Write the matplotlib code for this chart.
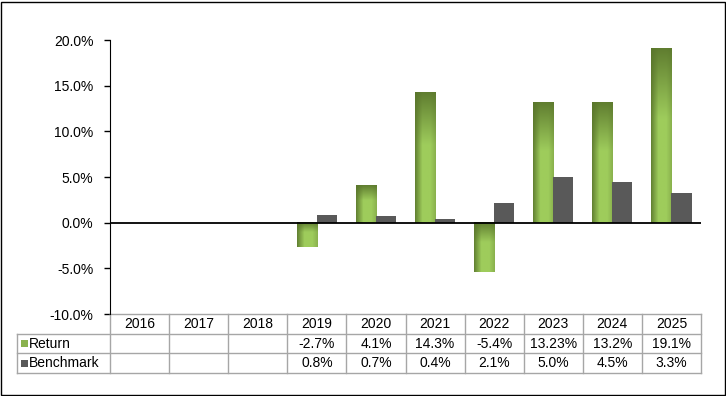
import numpy as np
import matplotlib
matplotlib.use("Agg")
import matplotlib.pyplot as plt
from matplotlib.patches import Rectangle
from matplotlib.lines import Line2D
import matplotlib.transforms as mtransforms

plt.rcParams['font.family'] = ['Liberation Sans', 'DejaVu Sans']

# data
years = ['2016', '2017', '2018', '2019', '2020', '2021', '2022', '2023', '2024', '2025']
ret = [None, None, None, -2.7, 4.1, 14.3, -5.4, 13.23, 13.2, 19.1]
ret_labels = ['', '', '', '-2.7%', '4.1%', '14.3%', '-5.4%', '13.23%', '13.2%', '19.1%']
bench = [None, None, None, 0.8, 0.7, 0.4, 2.1, 5.0, 4.5, 3.3]
bench_labels = ['', '', '', '0.8%', '0.7%', '0.4%', '2.1%', '5.0%', '4.5%', '3.3%']
series_names = ['Return', 'Benchmark']

W, H = 726, 396
fig = plt.figure(figsize=(W / 100, H / 100), dpi=100)
ax = fig.add_axes([110 / W, 82 / H, 591 / W, 274 / H])

light = np.array([0.62, 0.80, 0.36])
dark = np.array([0.35, 0.46, 0.17])
gray = '#595959'
bw = 0.34


def green_img(rows=80, cols=24):
    t = np.linspace(0, 1, cols)
    hd = np.interp(t, [0, 0.35, 0.75, 1.0], [0.85, 0.0, 0.0, 0.3])
    v = np.linspace(0, 1, rows)
    vd = np.interp(v, [0, 0.4, 1.0], [0.9, 0.0, 0.0])
    d = 1 - (1 - vd[:, None]) * (1 - hd[None, :])
    return light[None, None, :] * (1 - d[..., None]) + dark[None, None, :] * d[..., None]


for i, (r, b) in enumerate(zip(ret, bench)):
    c = i + 0.5
    if r is not None:
        top, bot = max(r, 0), min(r, 0)
        ax.imshow(green_img(), extent=[c - bw, c, bot, top], aspect='auto',
                  interpolation='bilinear', zorder=2)
    if b is not None:
        ax.bar(c, b, width=bw, align='edge', color=gray, zorder=2)

ax.set_xlim(0, 10)
ax.set_ylim(-10, 20)
ax.set_yticks(np.arange(-10, 21, 5))
ax.set_yticklabels([f'{v:.1f}%' for v in np.arange(-10, 21, 5)], fontsize=10)
ax.tick_params(axis='y', length=4, width=1, direction='out', pad=8)
ax.set_xticks([])
for s in ['top', 'right', 'bottom']:
    ax.spines[s].set_visible(False)
ax.spines['left'].set_color('black')
ax.axhline(0, color='black', lw=1.3, zorder=3)

# data table
tr = ax.get_xaxis_transform()
row_h = 19.7 / 274
lc = '#a6a6a6'
x_left = (17 - 110) / 59.1
for k in range(4):
    y = -k * row_h
    x0 = 0 if k == 0 else x_left
    ax.add_line(Line2D([x0, 10], [y, y], transform=tr, color=lc, lw=1, clip_on=False))
for j in range(11):
    ax.add_line(Line2D([j, j], [0, -3 * row_h], transform=tr, color=lc, lw=1, clip_on=False))
ax.add_line(Line2D([x_left, x_left], [-row_h, -3 * row_h], transform=tr, color=lc, lw=1, clip_on=False))

for j, yr in enumerate(years):
    ax.text(j + 0.5, -0.5 * row_h, yr, transform=tr, ha='center', va='center', fontsize=10)
    ax.text(j + 0.5, -1.5 * row_h, ret_labels[j], transform=tr, ha='center', va='center', fontsize=10)
    ax.text(j + 0.5, -2.5 * row_h, bench_labels[j], transform=tr, ha='center', va='center', fontsize=10)

key_colors = ['#8ab24e', gray]
for k, (name, kc) in enumerate(zip(series_names, key_colors)):
    yc = -(1.5 + k) * row_h
    kx = x_left + 4 / 59.1
    ax.add_patch(Rectangle((kx, yc - 3.5 / 274), 7 / 59.1, 7 / 274, transform=tr,
                           facecolor=kc, edgecolor='none', clip_on=False))
    ax.text(kx + 8 / 59.1, yc, name, transform=tr, ha='left', va='center', fontsize=10)

# outer border
fig.patches.append(Rectangle((1 / W, 1 / H), (W - 2.5) / W, (H - 2.5) / H, transform=fig.transFigure,
                             fill=False, edgecolor='black', lw=1))

fig.savefig('out.png', dpi=100)
